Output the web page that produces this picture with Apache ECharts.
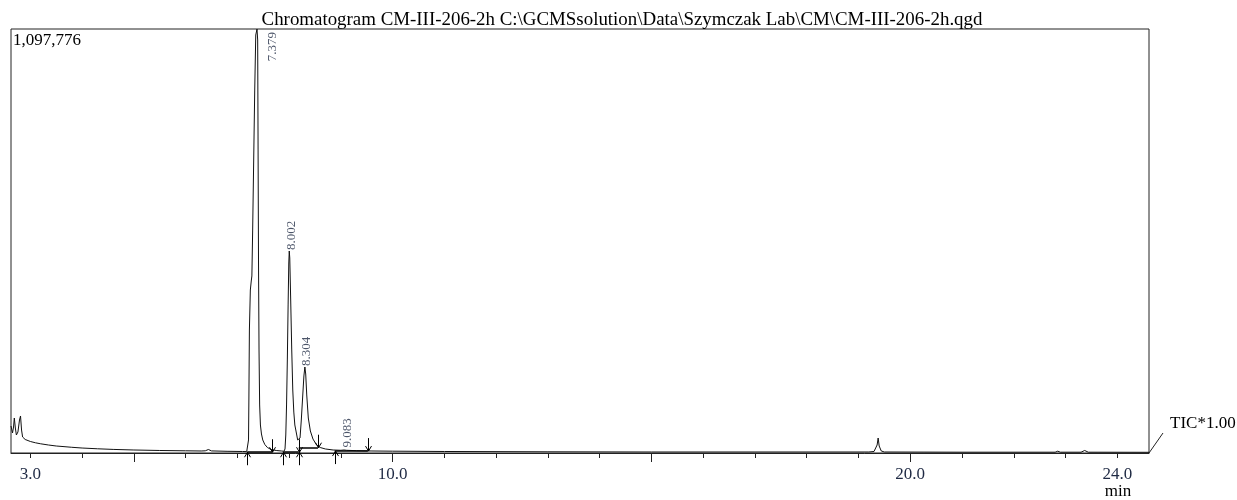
<!DOCTYPE html>
<html><head><meta charset="utf-8">
<script src="https://cdn.jsdelivr.net/npm/echarts@6/dist/echarts.min.js"></script>
<style>html,body{margin:0;padding:0;background:#fff}#c{width:1237px;height:500px}</style>
</head><body><div id="c"></div>
<script>
// Retention time (min) and TIC intensity
const retentionTimes = [2.626,2.655,2.675,2.69,2.71,2.73,2.76,2.79,2.81,2.83,2.85,2.9,3.0,3.1,3.2,3.35,3.5,3.65,3.8,4.0,4.3,4.6,5.0,5.5,6.0,6.3,6.38,6.44,6.5,6.8,7.1,7.18,7.205,7.215,7.222,7.232,7.25,7.268,7.28,7.295,7.315,7.335,7.355,7.379,7.392,7.40,7.408,7.418,7.43,7.445,7.465,7.49,7.53,7.58,7.65,7.75,7.85,7.90,7.92,7.935,7.95,7.965,7.98,7.993,8.002,8.012,8.03,8.05,8.07,8.09,8.11,8.136,8.165,8.185,8.21,8.235,8.26,8.285,8.304,8.32,8.34,8.37,8.41,8.46,8.53,8.6,8.7,8.85,9.0,9.06,9.083,9.11,9.3,9.6,10.0,11.0,13.0,15.0,17.0,19.2,19.3,19.36,19.38,19.40,19.44,19.5,21.0,22.8,22.85,22.9,23.3,23.37,23.44,24.613];
const intensities = [69900,51800,67300,90600,64700,46600,54400,85400,95800,59500,41400,35000,29800,26400,23800,20700,18100,16500,14800,12900,10900,9300,7800,6500,5700,5200,5700,9100,5400,4400,3900,3600,5200,33700,137200,318400,422000,445300,458300,577300,758600,939800,1082200,1097776,1069300,784500,499700,266700,124300,72500,49200,33700,22000,14200,9100,6500,5200,4400,10400,46600,124300,240800,383200,491900,523000,504900,396100,266700,163100,106100,72500,54400,33700,29300,38800,85400,142400,199400,222700,204500,150200,90600,57000,36200,20700,14200,10400,7800,7000,7800,11700,7000,6000,5200,4700,3900,3100,2600,2600,2600,3900,20700,38800,18100,5200,2600,2100,2100,4700,2100,2100,6500,2100,1800];

// Labelled peaks
const peakTimes = [7.379, 8.002, 8.304, 9.083];
const peakHeights = [1097776, 523000, 222700, 11700];

// Integration markers: 1 = peak start (arrow from below), -1 = peak end (arrow from above)
const markerTimes = [7.19, 7.675, 7.89, 8.185, 8.185, 8.557, 8.88, 9.52];
const markerLevels = [2000, 2000, 2000, 2000, 2000, 13700, 5000, 5000];
const markerDirections = [1, -1, 1, -1, 1, -1, 1, -1];

// Integration baselines
const baselineStarts = [7.19, 7.89, 8.185, 8.88];
const baselineEnds = [7.675, 8.185, 8.557, 9.52];
const baselineLevels = [2000, 2000, 13700, 5000];

// Axis
const xMin = 2.626, xMax = 24.613;
const yMax = 1097776;
const xTickValues = [3,4,5,6,7,8,9,10,11,12,13,14,15,16,17,18,19,20,21,22,23,24];
const xMajorTicks = [5,10,15,20];
const xLabelValues = [3,10,20,24];

const titleText = 'Chromatogram CM-III-206-2h C:\\GCMSsolution\\Data\\Szymczak Lab\\CM\\CM-III-206-2h.qgd';
const serif = '"Liberation Serif", "DejaVu Serif", serif';

const chart = echarts.init(document.getElementById('c'), null, {renderer: 'canvas'});
const lineData = retentionTimes.map((t, i) => [t, intensities[i]]);
const markerData = markerTimes.map((t, i) => [t, markerLevels[i], markerDirections[i]]);
const baselineData = baselineStarts.map((s, i) => ({coords: [[s, baselineLevels[i]], [baselineEnds[i], baselineLevels[i]]]}));
const peakData = peakTimes.map((t, i) => {
  const item = {value: [t, peakHeights[i]]};
  if (peakHeights[i] >= yMax) {
    item.label = {position: [15.5, 3], align: 'right'};
  }
  return item;
});

chart.setOption({
  animation: false,
  grid: {left: 11, right: 88, top: 29, bottom: 47, show: true, borderColor: '#222', borderWidth: 1, backgroundColor: 'transparent'},
  xAxis: [{
    type: 'value', min: xMin, max: xMax,
    axisLine: {show: true, onZero: false, lineStyle: {color: '#222', width: 1}},
    axisTick: {show: true, customValues: xTickValues, length: 5, lineStyle: {color: '#222', width: 1}},
    axisLabel: {show: true, customValues: xLabelValues, formatter: v => Number(v).toFixed(1), fontFamily: serif, fontSize: 17, color: '#1f2a44', margin: 13},
    splitLine: {show: false}
  }, {
    type: 'value', min: xMin, max: xMax, position: 'bottom', offset: 0, gridIndex: 0,
    axisLine: {show: false},
    axisTick: {show: true, customValues: xMajorTicks, length: 9, lineStyle: {color: '#222', width: 1}},
    axisLabel: {show: false},
    splitLine: {show: false}
  }],
  yAxis: {type: 'value', min: 0, max: yMax, show: false, splitLine: {show: false}},
  series: [{
    type: 'line', data: lineData, showSymbol: false, symbol: 'none',
    lineStyle: {color: '#111', width: 1}, z: 3
  }, {
    type: 'lines', coordinateSystem: 'cartesian2d', data: baselineData,
    lineStyle: {color: '#000', width: 1.5, opacity: 1}, z: 4
  }, {
    type: 'custom', data: markerData, z: 5,
    renderItem: function (params, api) {
      const p = api.coord([api.value(0), api.value(1)]);
      const d = api.value(2);
      const x = Math.round(p[0]) + 0.5;
      const y = p[1];
      const far = y + d * 13;
      return {type: 'group', children: [
        {type: 'line', shape: {x1: x, y1: far, x2: x, y2: y}, style: {stroke: '#000', lineWidth: 1}},
        {type: 'polyline', shape: {points: [[x - 3, y + d * 5], [x, y], [x + 3, y + d * 5]]}, style: {stroke: '#000', fill: null, lineWidth: 1}}
      ]};
    }
  }, {
    type: 'scatter', data: peakData, symbolSize: 0.1, itemStyle: {color: 'transparent'}, z: 6,
    label: {
      show: true, position: [2, -1], rotate: 90, align: 'left', verticalAlign: 'middle',
      formatter: p => p.value[0].toFixed(3), fontFamily: serif, fontSize: 13, color: '#1f2a44'
    }
  }],
  graphic: [
    {type: 'text', x: 622, y: 20, style: {text: titleText, textAlign: 'center', textVerticalAlign: 'middle', font: '18.9px ' + serif, fill: '#000'}},
    {type: 'text', x: 13, y: 41, style: {text: yMax.toLocaleString('en-US'), textAlign: 'left', textVerticalAlign: 'middle', font: '17px ' + serif, fill: '#000'}},
    {type: 'text', x: 1170, y: 424, style: {text: 'TIC*1.00', textAlign: 'left', textVerticalAlign: 'middle', font: '17px ' + serif, fill: '#000'}},
    {type: 'text', x: 1118, y: 492, style: {text: 'min', textAlign: 'center', textVerticalAlign: 'middle', font: '17px ' + serif, fill: '#000'}},
    {type: 'line', shape: {x1: 1149, y1: 453, x2: 1163, y2: 433}, style: {stroke: '#222', lineWidth: 1}}
  ]
});
</script></body></html>
